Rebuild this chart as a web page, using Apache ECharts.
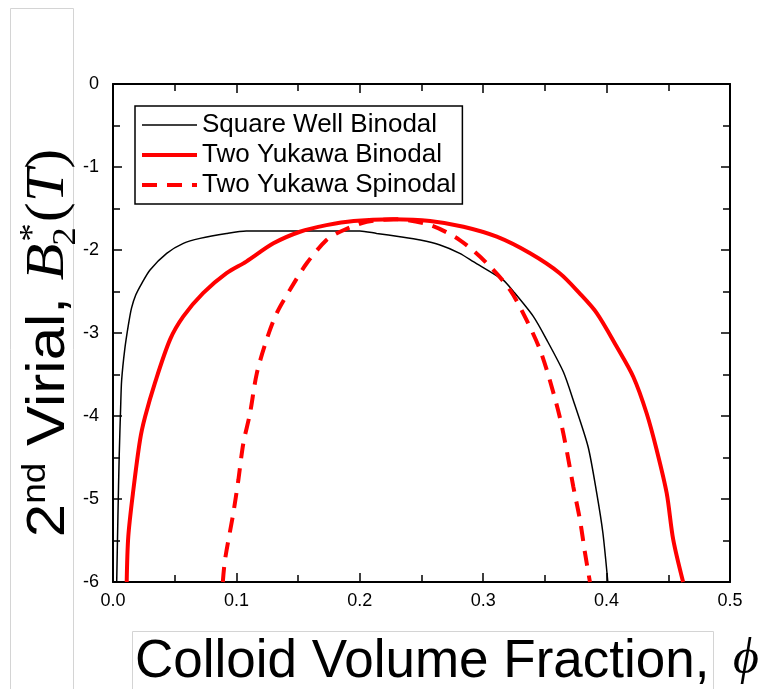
<!DOCTYPE html>
<html>
<head>
<meta charset="utf-8">
<script src="https://cdn.jsdelivr.net/npm/echarts@6/dist/echarts.min.js"></script>
<style>
  html, body { margin: 0; padding: 0; background: #fff; }
  #chart { width: 758px; height: 689px; }
</style>
</head>
<body>
<div id="chart"></div>
<script>
// Coexistence curves: reduced second virial coefficient vs colloid volume fraction
const xTickLabels = ['0.0', '0.1', '0.2', '0.3', '0.4', '0.5'];
const yTickLabels = ['-6', '-5', '-4', '-3', '-2', '-1', '0'];
const seriesNames = ['Square Well Binodal', 'Two Yukawa Binodal', 'Two Yukawa Spinodal'];

// [phi, B2*]
const squareWellBinodal = [
  [0.003, -6.0], [0.004, -5.2], [0.005, -4.5], [0.0062, -3.89], [0.007, -3.57],
  [0.0095, -3.2], [0.0125, -2.90], [0.015, -2.70], [0.0185, -2.54], [0.023, -2.41],
  [0.030, -2.24], [0.0435, -2.04], [0.057, -1.92], [0.0705, -1.86], [0.092, -1.80],
  [0.108, -1.77], [0.150, -1.77], [0.200, -1.77], [0.2137, -1.80], [0.2326, -1.84],
  [0.249, -1.88], [0.265, -1.94], [0.281, -2.04], [0.292, -2.14], [0.316, -2.36],
  [0.3245, -2.50], [0.3406, -2.80], [0.3514, -3.08], [0.365, -3.47], [0.373, -3.81],
  [0.385, -4.37], [0.392, -4.93], [0.397, -5.41], [0.401, -6.0]
];
const twoYukawaBinodal = [
  [0.0111, -6.0], [0.0124, -5.45], [0.0165, -4.89], [0.0219, -4.29], [0.026, -4.01],
  [0.034, -3.60], [0.0462, -3.08], [0.057, -2.80], [0.073, -2.52], [0.092, -2.28],
  [0.108, -2.14], [0.130, -1.92], [0.1515, -1.78], [0.173, -1.70], [0.195, -1.65],
  [0.227, -1.63], [0.257, -1.65], [0.284, -1.72], [0.311, -1.84], [0.338, -2.04],
  [0.362, -2.28], [0.378, -2.52], [0.392, -2.76], [0.408, -3.16], [0.4217, -3.53],
  [0.4325, -3.97], [0.4406, -4.41], [0.4487, -4.93], [0.454, -5.49], [0.462, -6.0]
];
const twoYukawaSpinodal = [
  [0.089, -6.0], [0.0908, -5.73], [0.0975, -5.17], [0.1016, -4.77], [0.1056, -4.33],
  [0.111, -3.97], [0.1165, -3.49], [0.1245, -3.08], [0.1327, -2.76], [0.1434, -2.48],
  [0.157, -2.16], [0.173, -1.88], [0.184, -1.78], [0.2056, -1.66], [0.230, -1.63],
  [0.257, -1.70], [0.281, -1.88], [0.303, -2.16], [0.3217, -2.48], [0.335, -2.84],
  [0.346, -3.20], [0.354, -3.57], [0.362, -4.01], [0.3676, -4.41], [0.373, -4.85],
  [0.3784, -5.25], [0.3825, -5.65], [0.3865, -6.0]
];

const SANS = '"Liberation Sans", Arial, Helvetica, sans-serif';
const SERIF = '"Liberation Serif", "DejaVu Serif", "Times New Roman", serif';

// text measuring for the composed axis titles
const mctx = document.createElement('canvas').getContext('2d');
function textWidth(font, s) { mctx.font = font; return mctx.measureText(s).width; }

// pieces of the rotated y-axis title, laid out along one baseline
function buildYTitle() {
  const S = 60;
  const sup = Math.round(S * 0.62);
  const parts = [
    { t: '2', f: S + 'px ' + SANS, size: S, rise: 0 },
    { t: 'nd', f: sup + 'px ' + SANS, size: sup, rise: S * 0.36 },
    { t: ' Virial, ', f: S + 'px ' + SANS, size: S, rise: 0 },
    { t: 'B', f: 'italic ' + S + 'px ' + SERIF, size: S, rise: 0 },
    { t: '*', f: sup + 'px ' + SERIF, size: sup, rise: S * 0.42, stack: true },
    { t: '2', f: sup + 'px ' + SERIF, size: sup, rise: -S * 0.2, stackBelow: true },
    { t: '(', f: S + 'px ' + SERIF, size: S, rise: 0 },
    { t: 'T', f: 'italic ' + S + 'px ' + SERIF, size: S, rise: 0 },
    { t: ')', f: S + 'px ' + SERIF, size: S, rise: 0 }
  ];
  let x = 0, stackX = 0, stackW = 0;
  const placed = [];
  parts.forEach(p => {
    const w = textWidth(p.f, p.t);
    let px;
    if (p.stack) { stackX = x + 2; px = stackX; stackW = w; }
    else if (p.stackBelow) { px = stackX - 4; x = Math.max(stackX + stackW, px + w) + 1; }
    else { px = x; x += w; }
    placed.push({ p, px });
  });
  const total = x;
  return placed.map(({ p, px }) => ({
    type: 'text',
    x: px - total / 2,
    y: -0.34 * p.size - p.rise,
    style: { text: p.t, font: p.f, fill: '#000', align: 'left', verticalAlign: 'middle' }
  }));
}

const chart = echarts.init(document.getElementById('chart'), null, { renderer: 'canvas' });

const tickLine = { color: '#000', width: 1.5 };
const axisLine = { show: true, onZero: false, lineStyle: { color: '#000', width: 2 } };

function xAxisDef(pos, labels) {
  return {
    type: 'value', position: pos, min: 0, max: 0.5, interval: 0.1,
    axisLine: axisLine,
    axisTick: { show: true, inside: true, length: 9, lineStyle: tickLine },
    minorTick: { show: true, splitNumber: 2, length: 7, lineStyle: tickLine },
    splitLine: { show: false }, minorSplitLine: { show: false },
    axisLabel: labels ? {
      show: true, margin: 10, color: '#000', fontSize: 18, fontFamily: SANS,
      formatter: v => xTickLabels[Math.round(v * 10)]
    } : { show: false }
  };
}
function yAxisDef(pos, labels) {
  return {
    type: 'value', position: pos, min: -6, max: 0, interval: 1,
    axisLine: axisLine,
    axisTick: { show: true, inside: true, length: 9, lineStyle: tickLine },
    minorTick: { show: true, splitNumber: 2, length: 7, lineStyle: tickLine },
    splitLine: { show: false }, minorSplitLine: { show: false },
    axisLabel: labels ? {
      show: true, margin: 14, color: '#000', fontSize: 18, fontFamily: SANS,
      formatter: v => yTickLabels[Math.round(v) + 6]
    } : { show: false }
  };
}

chart.setOption({
  backgroundColor: '#fff',
  animation: false,
  grid: { left: 113, right: 28, top: 84, bottom: 107, containLabel: false },
  xAxis: [xAxisDef('bottom', true), xAxisDef('top', false)],
  yAxis: [yAxisDef('left', true), yAxisDef('right', false)],
  legend: {
    data: seriesNames,
    orient: 'vertical',
    left: 135, top: 106,
    padding: [6, 6, 6, 5],
    itemGap: 4,
    itemWidth: 55, itemHeight: 14,
    itemStyle: { opacity: 0 },
    lineStyle: { width: 'inherit' },
    borderColor: '#000', borderWidth: 1.5,
    textStyle: { fontSize: 26, fontFamily: SANS, color: '#000', lineHeight: 26 }
  },
  series: [
    {
      name: seriesNames[0], type: 'line', data: squareWellBinodal,
      showSymbol: false, symbol: 'none', smooth: 0.25, z: 2,
      lineStyle: { color: '#000', width: 1.5 }, itemStyle: { color: '#000' }
    },
    {
      name: seriesNames[1], type: 'line', data: twoYukawaBinodal,
      showSymbol: false, symbol: 'none', smooth: 0.3, z: 3,
      lineStyle: { color: '#ff0000', width: 4 }, itemStyle: { color: '#ff0000' }
    },
    {
      name: seriesNames[2], type: 'line', data: twoYukawaSpinodal,
      showSymbol: false, symbol: 'none', smooth: 0.3, z: 4,
      lineStyle: { color: '#ff0000', width: 4, type: [15, 10] }, itemStyle: { color: '#ff0000' }
    }
  ],
  graphic: [
    { type: 'rect', shape: { x: 10.5, y: 8.5, width: 63, height: 700 },
      style: { fill: 'none', stroke: '#d4d4d4', lineWidth: 1 }, silent: true },
    { type: 'rect', shape: { x: 132.5, y: 631.5, width: 581, height: 80 },
      style: { fill: 'none', stroke: '#d4d4d4', lineWidth: 1 }, silent: true },
    { type: 'group', x: 67, y: 343, rotation: Math.PI / 2, scaleY: 0.9, children: buildYTitle() },
    { type: 'text', x: 135, y: 662,
      style: { text: 'Colloid Volume Fraction,', font: '53px ' + SANS, fill: '#000', align: 'left', verticalAlign: 'middle' } },
    { type: 'text', x: 733, y: 660,
      style: { text: '\u03D5', font: 'italic 50px ' + SERIF, fill: '#000', align: 'left', verticalAlign: 'middle' } }
  ]
});
</script>
</body>
</html>
